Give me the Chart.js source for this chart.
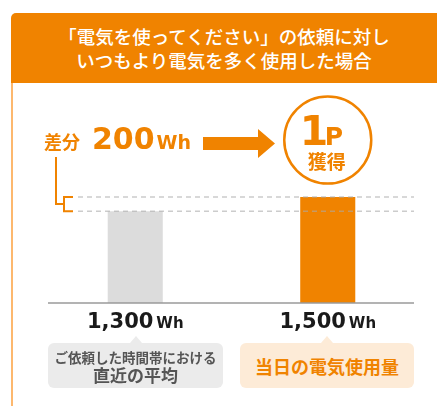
<!DOCTYPE html>
<html>
<head>
<meta charset="utf-8">
<script src="https://cdn.jsdelivr.net/npm/chart.js@4"></script>
<style>
  body { margin: 0; background: #fff; width: 437px; height: 406px; overflow: hidden; position: relative; font-family: "Noto Sans CJK JP", sans-serif; }
  #chart { position: absolute; left: 0; top: 0; }
  .head { position: absolute; left: 11px; top: 13px; width: 426px; height: 70px; box-sizing: border-box; padding-top: 11px;
    background: #f08300; color: #fff; font-size: 18.5px; font-weight: 500; line-height: 24px; text-align: center; border-top-left-radius: 5px; }
  .rule { position: absolute; left: 11px; top: 83px; width: 2px; height: 323px; background: #fdb86e; }
  .box { position: absolute; top: 343px; height: 45px; border-radius: 6px; text-align: center; font-weight: 700; box-sizing: border-box; }
  .box::before { content: ""; position: absolute; left: 50%; top: -7px; margin-left: -6px; width: 0; height: 0;
    border-left: 6px solid transparent; border-right: 6px solid transparent; border-bottom: 7px solid; border-bottom-color: inherit; }
  .avg { left: 48px; width: 175px; background: #ebebeb; border-color: #ebebeb; color: #555; padding-top: 5px; }
  .avg .l1 { font-size: 13.5px; line-height: 18px; display: block; }
  .avg .l2 { font-size: 17px; line-height: 18px; display: block; }
  .today { left: 240px; width: 174px; background: #fdebd7; border-color: #fdebd7; color: #f08300; font-size: 18px; line-height: 45px; padding-top: 1px; }
</style>
</head>
<body>
<canvas id="chart" width="437" height="406"></canvas>
<div class="head">「電気を使ってください」の依頼に対し<br>いつもより電気を多く使用した場合</div>
<div class="rule"></div>
<div class="box avg" id="box0"></div>
<div class="box today" id="box1"></div>
<script>
// data
const categories = [['ご依頼した時間帯における', '直近の平均'], ['当日の電気使用量']];
const usageWh = [1300, 1500];
const barColors = ['#dcdcdc', '#f08300'];
const ORANGE = '#f08300';

// category labels in the callout boxes
document.getElementById('box0').innerHTML =
  '<span class="l1">' + categories[0][0] + '</span><span class="l2">' + categories[0][1] + '</span>';
document.getElementById('box1').textContent = categories[1][0];

const fmt = (v) => v.toLocaleString('en-US');

const annotations = {
  id: 'annotations',
  afterDatasetsDraw(chart) {
    const ctx = chart.ctx;
    const area = chart.chartArea;
    const y = chart.scales.y;
    const bars = chart.getDatasetMeta(0).data;
    const yLow = y.getPixelForValue(usageWh[0]);
    const yHigh = y.getPixelForValue(usageWh[1]);
    ctx.save();

    // baseline
    ctx.strokeStyle = '#9a9a9a';
    ctx.lineWidth = 1.5;
    ctx.beginPath();
    ctx.moveTo(area.left + 9, area.bottom);
    ctx.lineTo(area.right - 10, area.bottom);
    ctx.stroke();

    // dashed reference lines
    ctx.strokeStyle = 'rgba(170,170,170,0.6)';
    ctx.lineWidth = 1.5;
    ctx.setLineDash([5, 4]);
    [yLow, yHigh].forEach((py) => {
      ctx.beginPath();
      ctx.moveTo(area.left + 39, py);
      ctx.lineTo(area.right - 10, py);
      ctx.stroke();
    });
    ctx.setLineDash([]);

    // bracket
    ctx.strokeStyle = ORANGE;
    ctx.lineWidth = 2;
    const mid = (yLow + yHigh) / 2;
    ctx.beginPath();
    ctx.moveTo(56, 157);
    ctx.lineTo(56, mid);
    ctx.lineTo(64, mid);
    ctx.moveTo(73, yHigh);
    ctx.lineTo(64, yHigh);
    ctx.lineTo(64, yLow);
    ctx.lineTo(73, yLow);
    ctx.stroke();

    // difference label
    ctx.fillStyle = ORANGE;
    ctx.textBaseline = 'middle';
    ctx.font = '700 18px "Noto Sans CJK JP"';
    ctx.fillText('差分', 44, 142);
    ctx.textBaseline = 'alphabetic';
    ctx.font = '700 30px "DejaVu Sans"';
    const diff = String(usageWh[1] - usageWh[0]);
    ctx.fillText(diff, 92, 149);
    const dw = ctx.measureText(diff).width;
    ctx.font = '700 19px "DejaVu Sans"';
    ctx.fillText('Wh', 92 + dw + 2, 149);

    // arrow
    ctx.beginPath();
    ctx.moveTo(203, 137);
    ctx.lineTo(258, 137);
    ctx.lineTo(258, 129);
    ctx.lineTo(275, 143.5);
    ctx.lineTo(258, 158);
    ctx.lineTo(258, 150);
    ctx.lineTo(203, 150);
    ctx.closePath();
    ctx.fill();

    // point badge
    const cx = bars[1].x;
    ctx.beginPath();
    ctx.arc(cx, 140, 43.5, 0, Math.PI * 2);
    ctx.fillStyle = '#fff';
    ctx.fill();
    ctx.lineWidth = 2.5;
    ctx.strokeStyle = ORANGE;
    ctx.stroke();
    ctx.fillStyle = ORANGE;
    ctx.font = '700 41px "DejaVu Sans"';
    ctx.fillText('1', cx - 28, 145);
    ctx.font = '700 25px "DejaVu Sans"';
    ctx.fillText('P', cx - 3, 145);
    ctx.textAlign = 'center';
    ctx.textBaseline = 'middle';
    ctx.font = '700 19px "Noto Sans CJK JP"';
    ctx.fillText('獲得', cx - 1, 162);

    // value labels under bars
    ctx.textBaseline = 'alphabetic';
    ctx.textAlign = 'left';
    ctx.fillStyle = '#1a1a1a';
    bars.forEach((bar, i) => {
      const num = fmt(usageWh[i]);
      ctx.font = '700 21px "DejaVu Sans"';
      const nw = ctx.measureText(num).width;
      ctx.font = '700 15px "DejaVu Sans"';
      const uw = ctx.measureText('Wh').width;
      const x0 = bar.x - (nw + 3 + uw) / 2;
      ctx.font = '700 21px "DejaVu Sans"';
      ctx.fillText(num, x0, 328);
      ctx.font = '700 15px "DejaVu Sans"';
      ctx.fillText('Wh', x0 + nw + 3, 328);
    });
    ctx.restore();
  }
};

new Chart(document.getElementById('chart'), {
  type: 'bar',
  data: {
    labels: categories.map((c) => c.join('')),
    datasets: [{
      data: usageWh,
      backgroundColor: barColors,
      borderWidth: 0,
      categoryPercentage: 1,
      barPercentage: 0.286
    }]
  },
  options: {
    responsive: false,
    animation: false,
    devicePixelRatio: 1,
    layout: { padding: { left: 39, right: 13, top: 91, bottom: 103 } },
    plugins: { legend: { display: false }, tooltip: { enabled: false } },
    scales: {
      x: { display: false },
      y: { display: false, min: 0, max: 3000 }
    }
  },
  plugins: [annotations]
});
</script>
</body>
</html>
